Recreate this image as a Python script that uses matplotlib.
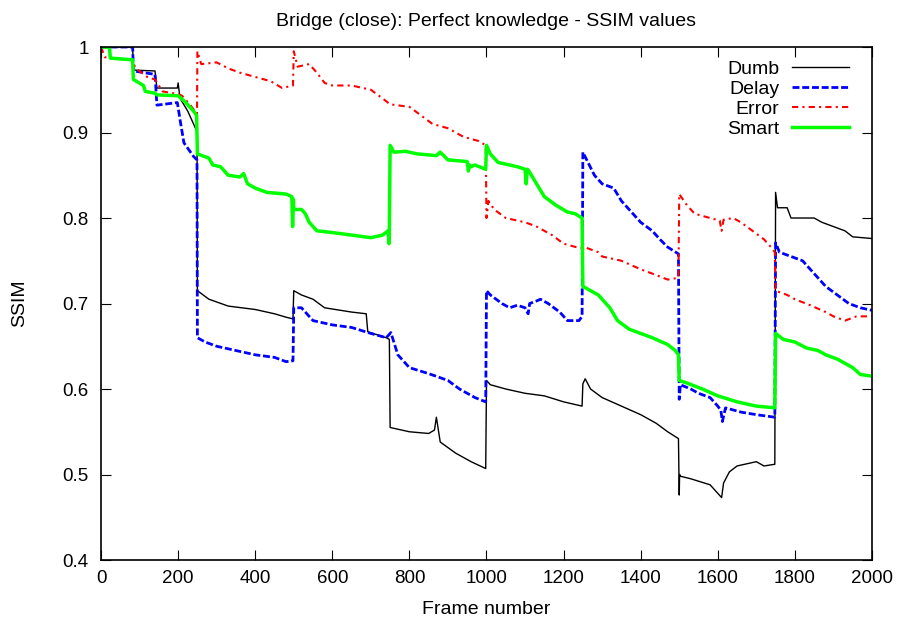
import numpy as np
import matplotlib.pyplot as plt

# SSIM per frame, sampled at breakpoints (frame, value)
dumb_frames = [0, 82, 84, 140, 145, 198, 200, 205, 225, 245, 249, 250, 280, 330, 400, 450, 480, 498,
               500, 520, 550, 580, 650, 688, 692, 740, 748, 750, 800, 850, 865, 870, 880, 920, 960, 998,
               1000, 1010, 1050, 1100, 1150, 1200, 1248, 1250, 1256, 1270, 1300, 1350, 1400, 1440, 1470, 1498,
               1500, 1501, 1503, 1530, 1580, 1600, 1610, 1615, 1630, 1650, 1680, 1700, 1720, 1748,
               1750, 1755, 1780, 1790, 1850, 1870, 1900, 1930, 1950, 2000]
dumb_vals = [1.0, 1.0, 0.973, 0.972, 0.952, 0.952, 0.958, 0.94, 0.925, 0.905, 0.9, 0.715, 0.705, 0.697, 0.693, 0.688, 0.684, 0.682,
             0.715, 0.71, 0.705, 0.695, 0.69, 0.688, 0.667, 0.66, 0.658, 0.555, 0.55, 0.548, 0.552, 0.567, 0.538, 0.525, 0.515, 0.507,
             0.61, 0.605, 0.6, 0.595, 0.592, 0.585, 0.58, 0.606, 0.612, 0.6, 0.59, 0.58, 0.57, 0.56, 0.55, 0.542,
             0.476, 0.5, 0.498, 0.495, 0.488, 0.478, 0.473, 0.49, 0.503, 0.51, 0.513, 0.515, 0.51, 0.512,
             0.83, 0.812, 0.812, 0.8, 0.8, 0.795, 0.79, 0.785, 0.778, 0.776]

delay_frames = [0, 82, 84, 140, 145, 198, 205, 215, 240, 249, 250, 270, 300, 350, 400, 450, 480, 498,
                500, 520, 550, 600, 650, 700, 740, 752, 770, 800, 850, 900, 930, 970, 998,
                1000, 1010, 1040, 1060, 1080, 1100, 1108, 1112, 1130, 1140, 1160, 1190, 1210, 1240, 1248,
                1250, 1260, 1280, 1300, 1330, 1350, 1370, 1400, 1430, 1450, 1470, 1498,
                1500, 1503, 1530, 1550, 1580, 1600, 1608, 1612, 1620, 1660, 1700, 1748,
                1750, 1760, 1790, 1820, 1840, 1860, 1880, 1910, 1940, 1970, 2000]
delay_vals = [1.0, 1.0, 0.972, 0.968, 0.932, 0.935, 0.915, 0.888, 0.872, 0.868, 0.66, 0.655, 0.65, 0.645, 0.64, 0.637, 0.632, 0.633,
              0.695, 0.695, 0.68, 0.675, 0.672, 0.665, 0.66, 0.666, 0.64, 0.625, 0.618, 0.61, 0.6, 0.59, 0.585,
              0.715, 0.71, 0.7, 0.695, 0.698, 0.695, 0.688, 0.7, 0.703, 0.705, 0.7, 0.69, 0.68, 0.68, 0.685,
              0.877, 0.868, 0.85, 0.84, 0.835, 0.82, 0.81, 0.795, 0.785, 0.775, 0.766, 0.758,
              0.588, 0.605, 0.6, 0.595, 0.59, 0.58, 0.575, 0.562, 0.578, 0.573, 0.57, 0.567,
              0.771, 0.76, 0.755, 0.75, 0.74, 0.73, 0.72, 0.71, 0.7, 0.695, 0.692]

error_frames = [0, 10, 80, 90, 120, 140, 160, 200, 210, 230, 249, 250, 260, 300, 330, 360, 400, 440, 470, 498,
                500, 510, 540, 560, 580, 600, 650, 700, 730, 750, 800, 830, 860, 900, 940, 980, 998,
                1000, 1005, 1020, 1050, 1100, 1130, 1170, 1200, 1240, 1260, 1290, 1300, 1350, 1400, 1430, 1470, 1498,
                1500, 1520, 1540, 1580, 1605, 1610, 1615, 1640, 1660, 1690, 1720, 1740, 1748,
                1750, 1780, 1800, 1840, 1880, 1900, 1930, 1960, 2000]
error_vals = [1.0, 0.988, 0.985, 0.975, 0.965, 0.962, 0.948, 0.945, 0.943, 0.933, 0.922, 0.995, 0.98, 0.982, 0.975, 0.97, 0.965, 0.96, 0.952, 0.955,
              0.995, 0.977, 0.98, 0.97, 0.958, 0.955, 0.955, 0.95, 0.94, 0.933, 0.93, 0.92, 0.91, 0.905, 0.895, 0.89, 0.885,
              0.8, 0.82, 0.81, 0.8, 0.795, 0.79, 0.78, 0.77, 0.765, 0.765, 0.76, 0.755, 0.75, 0.74, 0.735, 0.728, 0.73,
              0.828, 0.815, 0.805, 0.8, 0.797, 0.785, 0.798, 0.8, 0.795, 0.785, 0.775, 0.765, 0.76,
              0.715, 0.71, 0.705, 0.698, 0.69, 0.685, 0.68, 0.685, 0.685]

smart_frames = [0, 22, 24, 82, 84, 110, 115, 140, 145, 200, 220, 240, 248,
                250, 280, 290, 310, 330, 360, 370, 380, 400, 430, 480, 495, 497, 499,
                500, 520, 530, 540, 560, 600, 650, 700, 730, 745, 747, 748,
                750, 760, 790, 820, 870, 880, 900, 950, 953, 956, 960, 970, 998,
                1000, 1010, 1030, 1080, 1100, 1103, 1106, 1110, 1130, 1150, 1180, 1210, 1230, 1248,
                1250, 1270, 1290, 1320, 1340, 1370, 1400, 1430, 1470, 1490, 1498,
                1500, 1520, 1560, 1600, 1650, 1700, 1748,
                1750, 1770, 1800, 1830, 1860, 1880, 1910, 1950, 1970, 2000]
smart_vals = [1.0, 1.0, 0.987, 0.985, 0.962, 0.955, 0.948, 0.946, 0.944, 0.943, 0.935, 0.925, 0.92,
              0.875, 0.87, 0.862, 0.86, 0.85, 0.848, 0.852, 0.84, 0.835, 0.83, 0.828, 0.825, 0.79, 0.822,
              0.81, 0.81, 0.805, 0.795, 0.785, 0.783, 0.78, 0.777, 0.78, 0.785, 0.77, 0.784,
              0.885, 0.877, 0.878, 0.875, 0.873, 0.877, 0.868, 0.866, 0.855, 0.862, 0.86, 0.862, 0.857,
              0.885, 0.875, 0.865, 0.86, 0.857, 0.84, 0.857, 0.855, 0.84, 0.825, 0.815, 0.807, 0.805, 0.8,
              0.72, 0.715, 0.71, 0.695, 0.68, 0.67, 0.665, 0.66, 0.652, 0.645, 0.64,
              0.61, 0.607, 0.6, 0.592, 0.585, 0.58, 0.578,
              0.665, 0.658, 0.655, 0.648, 0.645, 0.64, 0.635, 0.625, 0.617, 0.615]

series = [
    ("Dumb", dumb_frames, dumb_vals, dict(color="black", lw=1.0, ls="-")),
    ("Delay", delay_frames, delay_vals, dict(color="#0000ff", lw=2.0, ls=(0, (2.5, 1.0)))),
    ("Error", error_frames, error_vals, dict(color="#ff0000", lw=1.5, ls=(0, (3, 2, 1, 2)))),
    ("Smart", smart_frames, smart_vals, dict(color="#00ff00", lw=2.5, ls="-")),
]

plt.rcParams["font.family"] = ["Liberation Sans", "DejaVu Sans"]

fig = plt.figure(figsize=(8.98, 6.21), dpi=100)
ax = fig.add_axes([0.1125, 0.0982, 0.8585, 0.8261])

for name, fr, vals, style in series:
    ax.plot(fr, vals, label=name, **style)

ax.set_xlim(0, 2000)
ax.set_ylim(0.4, 1.0)
ax.set_xticks(np.arange(0, 2001, 200))
ax.set_yticks(np.arange(0.4, 1.01, 0.1))
ax.set_yticklabels(["0.4", "0.5", "0.6", "0.7", "0.8", "0.9", "1"])
ax.tick_params(direction="in", top=True, right=True, length=7, labelsize=13.5)
ax.tick_params(axis="x", pad=7)
ax.tick_params(axis="y", pad=9)
for sp in ax.spines.values():
    sp.set_linewidth(1.2)

ax.set_xlabel("Frame number", fontsize=14)
ax.set_ylabel("SSIM", fontsize=14)
ax.xaxis.set_label_coords(0.5, -0.08)
ax.yaxis.set_label_coords(-0.095, 0.5)
ax.set_title("Bridge (close): Perfect knowledge - SSIM values", fontsize=14, pad=15)

leg = ax.legend(loc="upper right", bbox_to_anchor=(1.0, 1.02), frameon=False, markerfirst=False,
                fontsize=14, handlelength=2.9, labelspacing=0.13, borderaxespad=0.8,
                handletextpad=0.67)
for t in leg.get_texts():
    t.set_ha("right")

fig.savefig("out.png", dpi=100)
